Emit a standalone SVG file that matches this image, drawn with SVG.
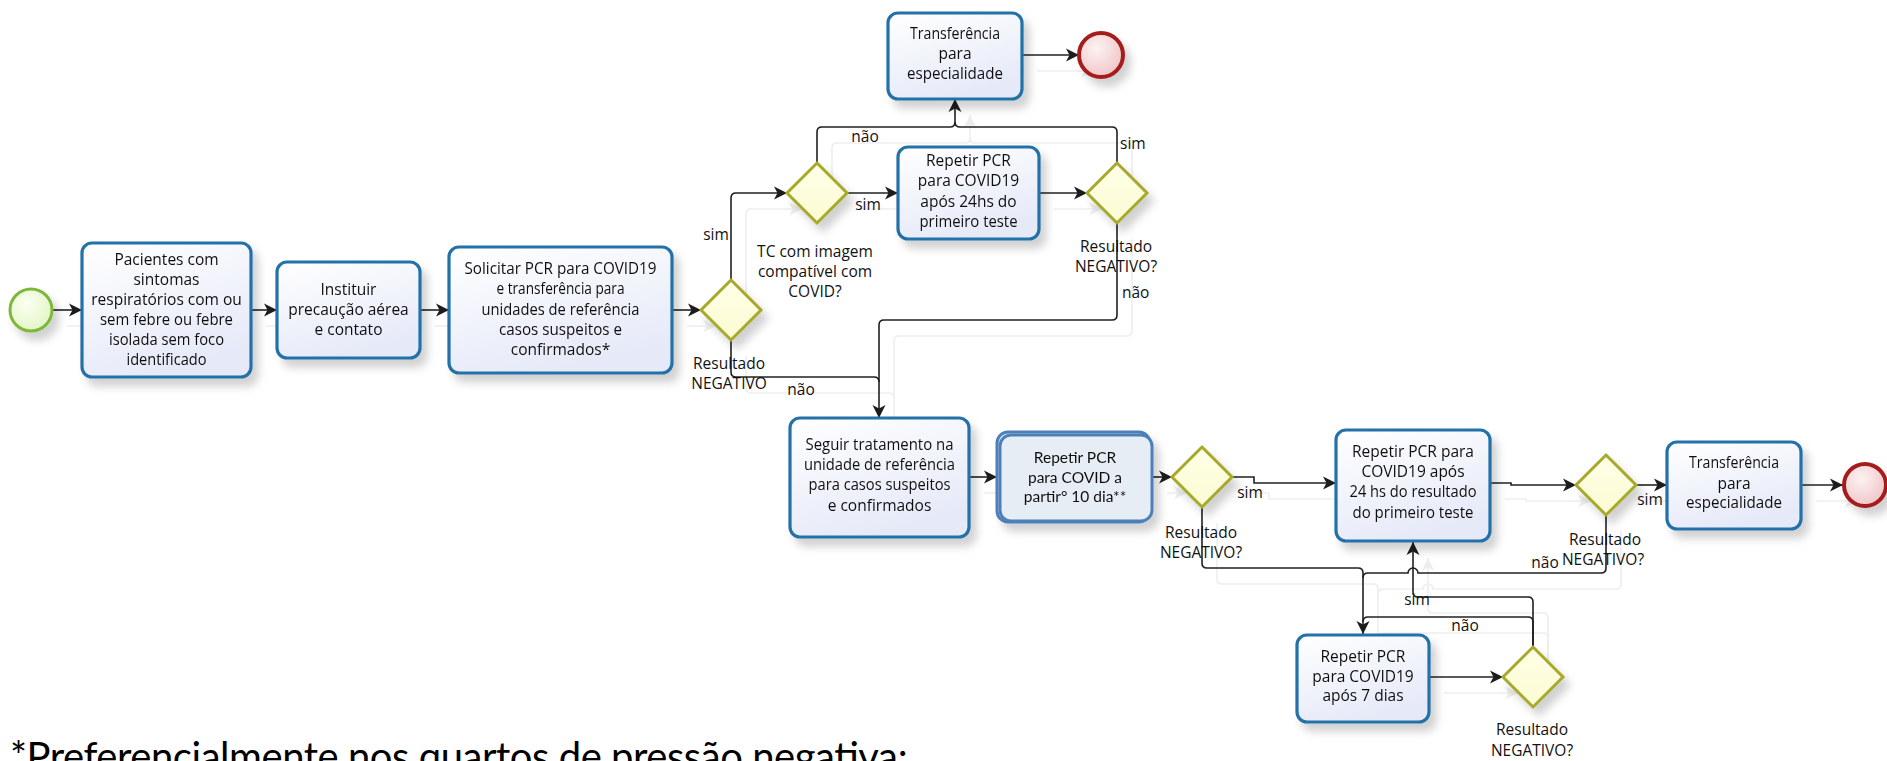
<svg xmlns="http://www.w3.org/2000/svg" width="1887" height="761" viewBox="0 0 1887 761">
  <defs>
    <linearGradient id="taskFill" x1="0" y1="0" x2="0.4" y2="1">
      <stop offset="0" stop-color="#ffffff"/>
      <stop offset="1" stop-color="#e6eaf8"/>
    </linearGradient>
    <linearGradient id="gateFill" x1="0" y1="0" x2="0" y2="1">
      <stop offset="0" stop-color="#ffffe8"/>
      <stop offset="1" stop-color="#fbfbd2"/>
    </linearGradient>
    <radialGradient id="startFill" cx="0.4" cy="0.35" r="0.7">
      <stop offset="0" stop-color="#fbfff2"/>
      <stop offset="1" stop-color="#e2f5c4"/>
    </radialGradient>
    <radialGradient id="endFill" cx="0.4" cy="0.35" r="0.7">
      <stop offset="0" stop-color="#fdf2f2"/>
      <stop offset="1" stop-color="#efc4c6"/>
    </radialGradient>
    <filter id="shadow" x="-20%" y="-20%" width="150%" height="160%">
      <feGaussianBlur in="SourceAlpha" stdDeviation="4"/>
      <feOffset dx="6" dy="8" result="b"/>
      <feFlood flood-color="#000" flood-opacity="0.18"/>
      <feComposite in2="b" operator="in"/>
      <feMerge><feMergeNode/><feMergeNode in="SourceGraphic"/></feMerge>
    </filter>
    <filter id="lineGhost" x="-5%" y="-5%" width="115%" height="115%">
      <feOffset in="SourceAlpha" dx="15" dy="16" result="o"/>
      <feFlood flood-color="#000" flood-opacity="0.07"/>
      <feComposite in2="o" operator="in"/>
      <feMerge><feMergeNode/><feMergeNode in="SourceGraphic"/></feMerge>
    </filter>
    <marker id="arrow" markerWidth="14" markerHeight="14" refX="13" refY="7" orient="auto" markerUnits="userSpaceOnUse">
      <path d="M0,0.5 L13,7 L0,13.5 L3.5,7 z" fill="#1a1a1a"/>
    </marker>
  </defs>
  <style>
    .task { fill: url(#taskFill); stroke: #2471a8; stroke-width: 3.2; }
    .task2 { fill: #e7edf5; stroke: #4d80b9; stroke-width: 3; }
    .gate { fill: url(#gateFill); stroke: #a7a92a; stroke-width: 3; }
    .start { fill: url(#startFill); stroke: #7db83a; stroke-width: 3; }
    .end { fill: url(#endFill); stroke: #a51c1e; stroke-width: 4; }
    .flow { fill: none; stroke: #1f1f1f; stroke-width: 1.6; }
    .arr { marker-end: url(#arrow); }
    text { font-family: "Open Sans", "Noto Sans", "DejaVu Sans", sans-serif; font-size: 15.5px; fill: #111; }
    .c { text-anchor: middle; }
    .alt { font-family: Lato, "Open Sans", sans-serif; font-size: 15.5px; fill: #111; }
    .note { font-family: Lato, "Liberation Sans", sans-serif; font-size: 40px; fill: #000; }
  </style>

  <rect width="1887" height="761" fill="#ffffff"/>

  <!-- sequence flows -->
  <g id="connectors" filter="url(#lineGhost)">
    <path class="flow arr" d="M52,310 H82"/>
    <path class="flow arr" d="M251,310 H277"/>
    <path class="flow arr" d="M420,310 H449"/>
    <path class="flow arr" d="M672,310 H701"/>
    <path class="flow arr" d="M731,280 V198 Q731,193 736,193 H787"/>
    <path class="flow arr" d="M847,193 H898"/>
    <path class="flow arr" d="M817,163 V132 Q817,127 822,127 H950 Q955,127 955,122 V99"/>
    <path class="flow" d="M1117,163 V132 Q1117,127 1112,127 H960 Q955,127 955,122"/>
    <path class="flow arr" d="M1039,193 H1087"/>
    <path class="flow arr" d="M1022,55 H1079"/>
    <path class="flow arr" d="M1117,223 V315 Q1117,320 1112,320 H884 Q879,320 879,325 V418"/>
    <path class="flow" d="M731,340 V372 Q731,377 736,377 H874 Q879,377 879,382"/>
    <path class="flow arr" d="M969,477 H997"/>
    <path class="flow arr" d="M1152,477 H1172"/>
    <path class="flow arr" d="M1232,477 H1254 V483 H1336"/>
    <path class="flow arr" d="M1490,483 H1511 V485 H1576"/>
    <path class="flow arr" d="M1636,485 H1667"/>
    <path class="flow arr" d="M1801,485 H1843"/>
    <path class="flow arr" d="M1202,507 V563 Q1202,568 1207,568 H1358 Q1363,568 1363,573 V634"/>
    <path class="flow" d="M1606,515 V568 Q1606,573 1601,573 H1418 A5,5 0 0 0 1408,573 H1368 Q1363,573 1363,578"/>
    <path class="flow arr" d="M1533,647 V602 Q1533,597 1528,597 H1418 Q1413,597 1413,592 V542"/>
    <path class="flow" d="M1533,647 V622 Q1533,617 1528,617 H1368 Q1363,617 1363,622"/>
    <path class="flow arr" d="M1429,677 H1503"/>
  </g>

  <g id="start">
    <circle class="start" cx="31" cy="310" r="21" filter="url(#shadow)"/>
  </g>

  <g id="pacientes" filter="url(#shadow)">
    <rect class="task" x="82" y="243" width="169" height="134" rx="10"/>
    <text class="c" x="166.5" y="265">Pacientes com</text>
    <text class="c" x="166.5" y="285">sintomas</text>
    <text class="c" x="166.5" y="305">respiratórios com ou</text>
    <text class="c" x="166.5" y="325" textLength="133" lengthAdjust="spacingAndGlyphs">sem febre ou febre</text>
    <text class="c" x="166.5" y="345" textLength="115" lengthAdjust="spacingAndGlyphs">isolada sem foco</text>
    <text class="c" x="166.5" y="365" textLength="80" lengthAdjust="spacingAndGlyphs">identificado</text>
  </g>

  <g id="precaucao" filter="url(#shadow)">
    <rect class="task" x="277" y="262" width="143" height="96" rx="10"/>
    <text class="c" x="348.5" y="295">Instituir</text>
    <text class="c" x="348.5" y="315">precaução aérea</text>
    <text class="c" x="348.5" y="335">e contato</text>
  </g>

  <g id="solicitar" filter="url(#shadow)">
    <rect class="task" x="449" y="247" width="223" height="126" rx="10"/>
    <text class="c" x="560.5" y="274" textLength="192" lengthAdjust="spacingAndGlyphs">Solicitar PCR para COVID19</text>
    <text class="c" x="560.5" y="294" textLength="128" lengthAdjust="spacingAndGlyphs">e transferência para</text>
    <text class="c" x="560.5" y="315" textLength="158" lengthAdjust="spacingAndGlyphs">unidades de referência</text>
    <text class="c" x="560.5" y="335" textLength="123" lengthAdjust="spacingAndGlyphs">casos suspeitos e</text>
    <text class="c" x="560.5" y="355">confirmados*</text>
  </g>

  <g id="gw-resultado1">
    <path class="gate" d="M731,280 L761,310 L731,340 L701,310 Z" filter="url(#shadow)"/>
    <text class="c" x="729" y="369">Resultado</text>
    <text class="c" x="729" y="389">NEGATIVO</text>
  </g>

  <g id="gw-tc">
    <path class="gate" d="M817,163 L847,193 L817,223 L787,193 Z" filter="url(#shadow)"/>
    <text class="c" x="815" y="257">TC com imagem</text>
    <text class="c" x="815" y="277">compatível com</text>
    <text class="c" x="815" y="297">COVID?</text>
  </g>

  <g id="transferencia1" filter="url(#shadow)">
    <rect class="task" x="888" y="13" width="134" height="86" rx="10"/>
    <text class="c" x="955" y="39" textLength="90" lengthAdjust="spacingAndGlyphs">Transferência</text>
    <text class="c" x="955" y="59">para</text>
    <text class="c" x="955" y="79" textLength="96" lengthAdjust="spacingAndGlyphs">especialidade</text>
  </g>

  <g id="end1">
    <circle class="end" cx="1101" cy="55" r="22" filter="url(#shadow)"/>
  </g>

  <g id="repetir24a" filter="url(#shadow)">
    <rect class="task" x="898" y="147" width="141" height="92" rx="10"/>
    <text class="c" x="968.5" y="166">Repetir PCR</text>
    <text class="c" x="968.5" y="186">para COVID19</text>
    <text class="c" x="968.5" y="207">após 24hs do</text>
    <text class="c" x="968.5" y="227" textLength="98" lengthAdjust="spacingAndGlyphs">primeiro teste</text>
  </g>

  <g id="gw-resultado2">
    <path class="gate" d="M1117,163 L1147,193 L1117,223 L1087,193 Z" filter="url(#shadow)"/>
    <text class="c" x="1116" y="252">Resultado</text>
    <text class="c" x="1116" y="272">NEGATIVO?</text>
  </g>

  <g id="seguir" filter="url(#shadow)">
    <rect class="task" x="790" y="418" width="179" height="119" rx="10"/>
    <text class="c" x="879.5" y="450" textLength="148" lengthAdjust="spacingAndGlyphs">Seguir tratamento na</text>
    <text class="c" x="879.5" y="470" textLength="151" lengthAdjust="spacingAndGlyphs">unidade de referência</text>
    <text class="c" x="879.5" y="490" textLength="142" lengthAdjust="spacingAndGlyphs">para casos suspeitos</text>
    <text class="c" x="879.5" y="511">e confirmados</text>
  </g>

  <g id="repetir10" filter="url(#shadow)">
    <rect class="task2" x="997" y="432" width="153" height="90" rx="11"/>
    <rect class="task2" x="1000" y="435" width="152" height="86" rx="11"/>
    <text class="c alt" x="1075" y="463">Repetir PCR</text>
    <text class="c alt" x="1075" y="483">para COVID a</text>
    <text class="c alt" x="1075" y="502">partir° 10 dia**</text>
  </g>

  <g id="gw-resultado3">
    <path class="gate" d="M1202,447 L1232,477 L1202,507 L1172,477 Z" filter="url(#shadow)"/>
    <text class="c" x="1201" y="538">Resultado</text>
    <text class="c" x="1201" y="558">NEGATIVO?</text>
  </g>

  <g id="repetir24b" filter="url(#shadow)">
    <rect class="task" x="1336" y="430" width="154" height="111" rx="10"/>
    <text class="c" x="1413" y="457">Repetir PCR para</text>
    <text class="c" x="1413" y="477">COVID19 após</text>
    <text class="c" x="1413" y="497" textLength="127" lengthAdjust="spacingAndGlyphs">24 hs do resultado</text>
    <text class="c" x="1413" y="518" textLength="121" lengthAdjust="spacingAndGlyphs">do primeiro teste</text>
  </g>

  <g id="gw-resultado4">
    <path class="gate" d="M1606,455 L1636,485 L1606,515 L1576,485 Z" filter="url(#shadow)"/>
    <text class="c" x="1605" y="545">Resultado</text>
    <text class="c" x="1603" y="565">NEGATIVO?</text>
  </g>

  <g id="transferencia2" filter="url(#shadow)">
    <rect class="task" x="1667" y="442" width="134" height="87" rx="10"/>
    <text class="c" x="1734" y="468" textLength="90" lengthAdjust="spacingAndGlyphs">Transferência</text>
    <text class="c" x="1734" y="489">para</text>
    <text class="c" x="1734" y="508" textLength="96" lengthAdjust="spacingAndGlyphs">especialidade</text>
  </g>

  <g id="end2">
    <circle class="end" cx="1865" cy="485" r="21" filter="url(#shadow)"/>
  </g>

  <g id="repetir7" filter="url(#shadow)">
    <rect class="task" x="1297" y="635" width="132" height="87" rx="10"/>
    <text class="c" x="1363" y="662">Repetir PCR</text>
    <text class="c" x="1363" y="682">para COVID19</text>
    <text class="c" x="1363" y="701">após 7 dias</text>
  </g>

  <g id="gw-resultado5">
    <path class="gate" d="M1533,647 L1563,677 L1533,707 L1503,677 Z" filter="url(#shadow)"/>
    <text class="c" x="1532" y="735">Resultado</text>
    <text class="c" x="1532" y="756">NEGATIVO?</text>
  </g>

  <!-- flow labels -->
  <g id="flow-labels">
    <text class="c" x="716" y="240">sim</text>
    <text class="c" x="868" y="210">sim</text>
    <text class="c" x="865" y="142">não</text>
    <text x="1120" y="149">sim</text>
    <text x="1122" y="298">não</text>
    <text class="c" x="801" y="395">não</text>
    <text class="c" x="1250" y="498">sim</text>
    <text class="c" x="1650" y="505">sim</text>
    <text class="c" x="1545" y="568">não</text>
    <text class="c" x="1417" y="605">sim</text>
    <text class="c" x="1465" y="631">não</text>
  </g>

  <text class="note" x="10" y="771" textLength="898" lengthAdjust="spacing">*Preferencialmente nos quartos de pressão negativa;</text>
</svg>
